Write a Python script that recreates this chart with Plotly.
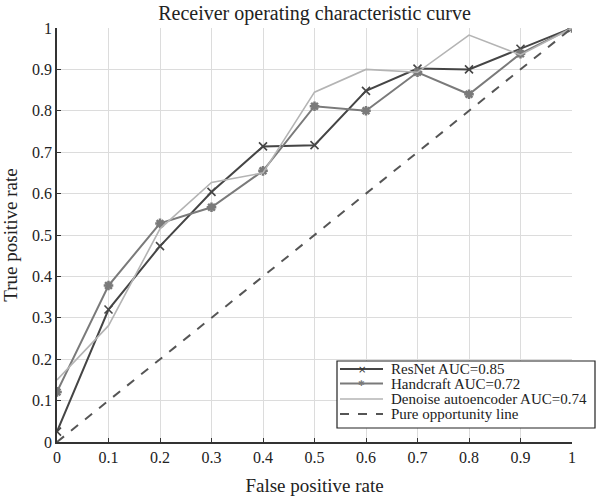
import plotly.graph_objects as go

fpr = [0, 0.1, 0.2, 0.3, 0.4, 0.5, 0.6, 0.7, 0.8, 0.9, 1.0]
resnet_tpr = [0.025, 0.32, 0.473, 0.604, 0.714, 0.717, 0.848, 0.902, 0.900, 0.950, 1.0]
handcraft_tpr = [0.121, 0.378, 0.528, 0.567, 0.655, 0.811, 0.800, 0.893, 0.840, 0.938, 1.0]
denoise_tpr = [0.15, 0.281, 0.515, 0.627, 0.650, 0.845, 0.900, 0.893, 0.983, 0.935, 1.0]
chance_x = [0, 1]
chance_y = [0, 1]

names = ["ResNet AUC=0.85", "Handcraft AUC=0.72", "Denoise autoencoder AUC=0.74", "Pure opportunity line"]
ticks = [0, 0.1, 0.2, 0.3, 0.4, 0.5, 0.6, 0.7, 0.8, 0.9, 1]
tick_text = ["0", "0.1", "0.2", "0.3", "0.4", "0.5", "0.6", "0.7", "0.8", "0.9", "1"]

FONT = "Liberation Serif, Times New Roman, serif"
W, H = 602, 498
L, R, T, B = 57, 30, 28, 56
PW, PH = W - L - R, H - T - B

def px(xp):
    return (xp - L) / PW

def py(yp):
    return (H - B - yp) / PH

C_RES = "#454545"
C_HAND = "#7a7a7a"
C_DEN = "#b4b4b4"
C_CH = "#555555"

styles = [
    dict(line=dict(color=C_RES, width=2), mode="lines+markers",
         marker=dict(symbol="x-thin-open", size=8, line=dict(color="#3a3a3a", width=1.6))),
    dict(line=dict(color=C_HAND, width=2), mode="lines+markers",
         marker=dict(symbol="asterisk-open", size=8, line=dict(color="#808080", width=2.5))),
    dict(line=dict(color=C_DEN, width=1.6), mode="lines"),
    dict(line=dict(color=C_CH, width=2, dash="dash"), mode="lines"),
]
series = [(fpr, resnet_tpr), (fpr, handcraft_tpr), (fpr, denoise_tpr), (chance_x, chance_y)]

fig = go.Figure()
for (xs, ys), name, st in zip(series, names, styles):
    fig.add_trace(go.Scatter(x=xs, y=ys, name=name, showlegend=False, **st))

axis_common = dict(
    range=[0, 1], tickvals=ticks, ticktext=tick_text, automargin=False,
    showgrid=True, gridcolor="#dcdcdc", gridwidth=1,
    showline=True, linecolor="#333333", linewidth=1.5,
    ticks="inside", ticklen=4, tickcolor="#333333",
    zeroline=False, tickfont=dict(family=FONT, size=16, color="#222"),
)

# manual compact legend (box, sample lines, labels)
shapes = [dict(type="rect", xref="paper", yref="paper",
               x0=px(337), x1=px(595), y0=py(428), y1=py(361),
               fillcolor="white", line=dict(color="#222", width=1.2), layer="above")]
annotations = []
entry_y = [369, 383.5, 399, 414]
line_styles = [dict(color=C_RES, width=2), dict(color=C_HAND, width=2),
               dict(color=C_DEN, width=1.6), dict(color=C_CH, width=2, dash="dash")]
for name, ey, ls in zip(names, entry_y, line_styles):
    shapes.append(dict(type="line", xref="paper", yref="paper",
                       x0=px(340), x1=px(383), y0=py(ey), y1=py(ey), line=ls, layer="above"))
    annotations.append(dict(text=name, xref="paper", yref="paper", x=px(389), y=py(ey),
                            xanchor="left", yanchor="middle", showarrow=False,
                            font=dict(family=FONT, size=15, color="#222")))
annotations.append(dict(text="×", xref="paper", yref="paper", x=px(361.5), y=py(entry_y[0]),
                        xanchor="center", yanchor="middle", showarrow=False,
                        font=dict(family="DejaVu Sans", size=10, color="#333")))
annotations.append(dict(text="✱", xref="paper", yref="paper", x=px(361.5), y=py(entry_y[1]),
                        xanchor="center", yanchor="middle", showarrow=False,
                        font=dict(family="DejaVu Sans", size=8, color="#7a7a7a")))

fig.update_layout(
    width=W, height=H,
    margin=dict(l=L, r=R, t=T, b=B, autoexpand=False),
    paper_bgcolor="white", plot_bgcolor="white",
    font=dict(family=FONT, size=16, color="#222"),
    title=dict(text="Receiver operating characteristic curve", x=(314.5) / W, xanchor="center",
               y=1 - 13 / H, yanchor="middle", font=dict(family=FONT, size=20, color="#222")),
    xaxis=dict(title=dict(text="False positive rate", font=dict(family=FONT, size=19), standoff=14), **axis_common),
    yaxis=dict(title=dict(text="True positive rate", font=dict(family=FONT, size=19), standoff=10), **axis_common),
    showlegend=False,
    shapes=shapes,
    annotations=annotations,
)

fig.write_html("out.html", config={"displayModeBar": False},
               post_script="document.body.style.margin='0';document.body.style.overflow='hidden';")
